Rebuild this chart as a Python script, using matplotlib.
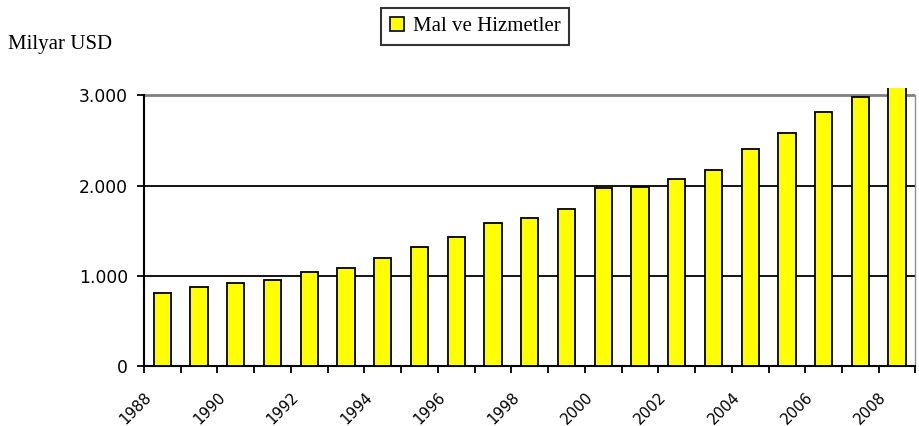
import matplotlib
matplotlib.use("Agg")
import matplotlib.pyplot as plt
from matplotlib.patches import Patch
from matplotlib.transforms import ScaledTranslation
import numpy as np

years = list(range(1988, 2009))
values = [810, 873, 917, 954, 1039, 1083, 1192, 1321, 1428, 1580, 1639, 1743,
          1976, 1980, 2069, 2175, 2409, 2583, 2812, 2982, 3100]
ytick_vals = [0, 1000, 2000, 3000]
ytick_labels = ["0", "1.000", "2.000", "3.000"]
series_name = "Mal ve Hizmetler"
unit_label = "Milyar USD"

W, H = 919, 426
fig = plt.figure(figsize=(W / 100, H / 100), dpi=100)
left, right = 144 / W, 915.5 / W
bottom = 1 - 366 / H
top = 1 - 88.1 / H
ax = fig.add_axes([left, bottom, right - left, top - bottom])

x = np.arange(len(years))
ax.bar(x, values, width=0.47, color="#FFFF00", edgecolor="black", linewidth=1.3, zorder=3)

ax.set_xlim(-0.5, len(years) - 0.5)
ax.set_ylim(0, 3080)

# gridlines
for v in ytick_vals[1:-1]:
    ax.axhline(v, color="black", linewidth=1.3, zorder=1)
ax.axhline(3000, color="#808080", linewidth=2.0, zorder=1)

ax.spines["top"].set_visible(False)
ax.spines["right"].set_color("#909090")
ax.spines["right"].set_linewidth(1.0)
ax.spines["right"].set_bounds(0, 3000)
ax.spines["left"].set_bounds(0, 3000)
ax.spines["left"].set_linewidth(1.5)
ax.spines["bottom"].set_linewidth(1.5)

ax.set_yticks(ytick_vals)
ax.set_yticklabels(ytick_labels, fontsize=12.3, family="DejaVu Sans")
ax.tick_params(axis="y", direction="out", length=5, width=1.3, pad=6.5)

# major x ticks at category boundaries
ax.set_xticks(np.arange(-0.5, len(years), 1.0))
ax.set_xticklabels([])
ax.tick_params(axis="x", which="major", direction="out", length=5, width=1.3)
# labels every other year
ax.set_xticks(x[::2], minor=True)
ax.set_xticklabels([str(y) for y in years[::2]], minor=True, rotation=45,
                   ha="right", va="center", rotation_mode="anchor",
                   fontsize=10.8, family="DejaVu Sans")
ax.tick_params(axis="x", which="minor", length=0, pad=21)
shift = ScaledTranslation(-13 / 100, 0, fig.dpi_scale_trans)
for lab in ax.get_xticklabels(minor=True):
    lab.set_transform(lab.get_transform() + shift)

fig.text(8 / W, 1 - 44 / H, unit_label, fontsize=15, family="Liberation Serif",
         ha="left", va="center")

handle = Patch(facecolor="#FFFF00", edgecolor="black", linewidth=1.2)
leg = fig.legend([handle], [series_name], loc="center",
                 bbox_to_anchor=(475 / W, 1 - 26.5 / H),
                 prop={"family": "Liberation Serif", "size": 15},
                 frameon=True, fancybox=False, handlelength=0.7, handleheight=0.7,
                 handletextpad=0.4, borderpad=0.4, borderaxespad=0)
leg.get_frame().set_edgecolor("black")
leg.get_frame().set_linewidth(1.5)

fig.savefig("out.png", dpi=100)
